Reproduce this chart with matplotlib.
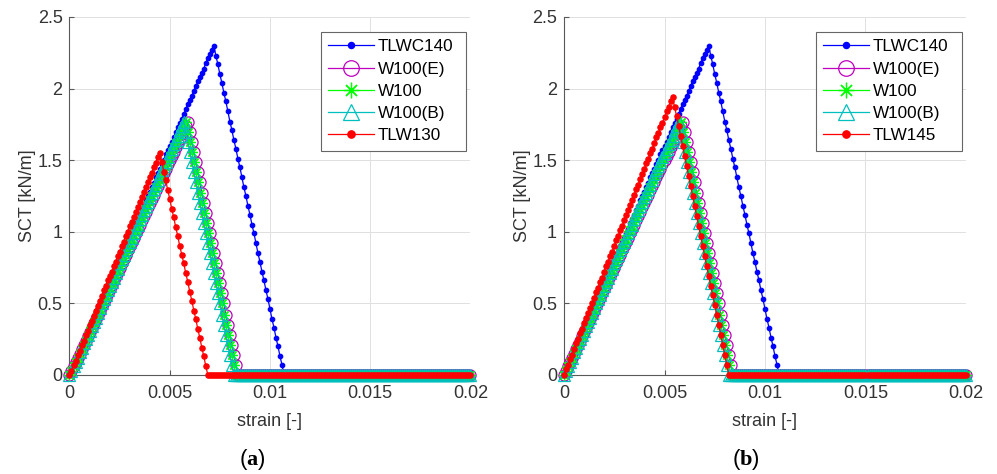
import numpy as np
import matplotlib.pyplot as plt

plt.rcParams.update({'font.family': 'Liberation Sans', 'font.size': 13,
                     'mathtext.fontset': 'custom',
                     'mathtext.rm': 'Liberation Serif',
                     'mathtext.bf': 'Liberation Serif:bold'})

# strain increments of the analysis, 0 to 0.02 in steps of 1e-4
strain = np.arange(201) * 0.0001

# SCT [kN/m] (rise, drop, then zero up to 0.02)
tlwc140_rise = [0.00, 0.03, 0.06, 0.10, 0.13, 0.16, 0.19, 0.22, 0.26, 0.29,
                0.32, 0.35, 0.38, 0.42, 0.45, 0.48, 0.51, 0.54, 0.58, 0.61,
                0.64, 0.67, 0.70, 0.74, 0.77, 0.80, 0.83, 0.86, 0.90, 0.93,
                0.96, 0.99, 1.02, 1.06, 1.09, 1.12, 1.15, 1.18, 1.22, 1.25,
                1.28, 1.31, 1.34, 1.38, 1.41, 1.44, 1.47, 1.50, 1.54, 1.57,
                1.60, 1.63, 1.66, 1.70, 1.73, 1.76, 1.79, 1.82, 1.86, 1.89,
                1.92, 1.95, 1.98, 2.02, 2.05, 2.08, 2.11, 2.14, 2.18, 2.21,
                2.24, 2.27, 2.30]
tlwc140_fall = [2.23, 2.17, 2.10, 2.04, 1.97, 1.91, 1.84, 1.77, 1.71, 1.64,
                1.58, 1.51, 1.45, 1.38, 1.31, 1.25, 1.18, 1.12, 1.05, 0.99,
                0.92, 0.85, 0.79, 0.72, 0.66, 0.59, 0.53, 0.46, 0.39, 0.33,
                0.26, 0.20, 0.13, 0.07, 0.00]

w100e_rise = [0.00, 0.03, 0.06, 0.09, 0.12, 0.15, 0.18, 0.21, 0.24, 0.27,
              0.30, 0.33, 0.36, 0.39, 0.42, 0.45, 0.48, 0.51, 0.54, 0.57,
              0.60, 0.63, 0.66, 0.69, 0.72, 0.75, 0.78, 0.81, 0.84, 0.87,
              0.90, 0.93, 0.96, 0.99, 1.02, 1.05, 1.08, 1.11, 1.14, 1.17,
              1.20, 1.23, 1.26, 1.29, 1.32, 1.35, 1.38, 1.41, 1.44, 1.47,
              1.50, 1.53, 1.56, 1.59, 1.62, 1.65, 1.68, 1.71, 1.74, 1.77]
w100_rise = [0.00, 0.03, 0.06, 0.09, 0.12, 0.15, 0.18, 0.21, 0.24, 0.27,
             0.31, 0.34, 0.37, 0.40, 0.43, 0.46, 0.49, 0.52, 0.55, 0.58,
             0.61, 0.64, 0.67, 0.70, 0.73, 0.76, 0.79, 0.82, 0.85, 0.88,
             0.92, 0.95, 0.98, 1.01, 1.04, 1.07, 1.10, 1.13, 1.16, 1.19,
             1.22, 1.25, 1.28, 1.31, 1.34, 1.37, 1.40, 1.43, 1.46, 1.49,
             1.53, 1.56, 1.59, 1.62, 1.65, 1.68, 1.71, 1.74, 1.77]
w100b_rise = [0.00, 0.03, 0.06, 0.09, 0.12, 0.16, 0.19, 0.22, 0.25, 0.28,
              0.31, 0.34, 0.37, 0.40, 0.43, 0.47, 0.50, 0.53, 0.56, 0.59,
              0.62, 0.65, 0.68, 0.71, 0.74, 0.78, 0.81, 0.84, 0.87, 0.90,
              0.93, 0.96, 0.99, 1.02, 1.05, 1.09, 1.12, 1.15, 1.18, 1.21,
              1.24, 1.27, 1.30, 1.33, 1.36, 1.40, 1.43, 1.46, 1.49, 1.52,
              1.55, 1.58, 1.61, 1.64, 1.67, 1.71, 1.74, 1.77]
# same softening branch for the three W100 sheets
w100_fall = [1.70, 1.63, 1.56, 1.49, 1.42, 1.35, 1.27, 1.20, 1.13, 1.06,
             0.99, 0.92, 0.85, 0.78, 0.71, 0.64, 0.57, 0.50, 0.42, 0.35,
             0.28, 0.21, 0.14, 0.07, 0.00]

tlw130_rise = [0.00, 0.03, 0.07, 0.10, 0.14, 0.17, 0.21, 0.24, 0.28, 0.31,
               0.35, 0.38, 0.41, 0.45, 0.48, 0.52, 0.55, 0.59, 0.62, 0.66,
               0.69, 0.72, 0.76, 0.79, 0.83, 0.86, 0.90, 0.93, 0.97, 1.00,
               1.04, 1.07, 1.10, 1.14, 1.17, 1.21, 1.24, 1.28, 1.31, 1.35,
               1.38, 1.41, 1.45, 1.48, 1.52, 1.55]
tlw130_fall = [1.49, 1.42, 1.36, 1.29, 1.23, 1.16, 1.10, 1.03, 0.97, 0.90,
               0.84, 0.78, 0.71, 0.65, 0.58, 0.52, 0.45, 0.39, 0.32, 0.26,
               0.19, 0.13, 0.06, 0.00]

tlw145_rise = [0.00, 0.04, 0.07, 0.11, 0.14, 0.18, 0.22, 0.25, 0.29, 0.32,
               0.36, 0.40, 0.43, 0.47, 0.50, 0.54, 0.58, 0.61, 0.65, 0.68,
               0.72, 0.76, 0.79, 0.83, 0.86, 0.90, 0.94, 0.97, 1.01, 1.04,
               1.08, 1.12, 1.15, 1.19, 1.22, 1.26, 1.30, 1.33, 1.37, 1.40,
               1.44, 1.48, 1.51, 1.55, 1.58, 1.62, 1.66, 1.69, 1.73, 1.76,
               1.80, 1.84, 1.87, 1.91, 1.94]
tlw145_fall = [1.87, 1.81, 1.74, 1.67, 1.60, 1.53, 1.46, 1.39, 1.32, 1.25,
               1.18, 1.11, 1.04, 0.97, 0.90, 0.83, 0.76, 0.69, 0.62, 0.56,
               0.49, 0.42, 0.35, 0.28, 0.21, 0.14, 0.07, 0.00]

sct_tlwc140 = tlwc140_rise + tlwc140_fall + [0.0] * 93
sct_w100e = w100e_rise + w100_fall + [0.0] * 116
sct_w100 = w100_rise + w100_fall + [0.0] * 117
sct_w100b = w100b_rise + w100_fall + [0.0] * 118
sct_tlw130 = tlw130_rise + tlw130_fall + [0.0] * 131
sct_tlw145 = tlw145_rise + tlw145_fall + [0.0] * 118

xticks = [0, 0.005, 0.01, 0.015, 0.02]
xticklabels = ['0', '0.005', '0.01', '0.015', '0.02']
yticks = [0, 0.5, 1, 1.5, 2, 2.5]
yticklabels = ['0', '0.5', '1', '1.5', '2', '2.5']

common = [('TLWC140', sct_tlwc140, dict(color='b', marker='o', ms=3.2)),
          ('W100(E)', sct_w100e, dict(color='m', marker='o', ms=8, mfc='none')),
          ('W100', sct_w100, dict(color=(0, 1, 0), marker=(8, 2, 0), ms=8)),
          ('W100(B)', sct_w100b, dict(color='c', marker='^', ms=8, mfc='none'))]


def panel(ax, lab, sct):
    curves = common + [(lab, sct, dict(color='r', marker='o', ms=3.8))]
    for name, y, st in curves:
        ax.plot(strain, y, label=name, lw=0.9, mew=0.9, clip_on=False,
                zorder=3, **st)
    ax.set_xlim(0, 0.02)
    ax.set_ylim(0, 2.5)
    ax.set_xticks(xticks)
    ax.set_xticklabels(xticklabels)
    ax.set_yticks(yticks)
    ax.set_yticklabels(yticklabels)
    ax.grid(True, color='0.88', lw=0.7)
    ax.set_axisbelow(True)
    for s in ['top', 'right']:
        ax.spines[s].set_visible(False)
    for s in ['left', 'bottom']:
        ax.spines[s].set_color('0.35')
        ax.spines[s].set_linewidth(0.8)
    ax.tick_params(direction='in', length=3.5, color='0.35', labelcolor='0.2')
    ax.tick_params(axis='x', pad=7)
    ax.tick_params(axis='y', pad=5)
    ax.set_xlabel('strain [-]', color='0.2', labelpad=8)
    ax.set_ylabel('SCT [kN/m]', color='0.2', labelpad=1)
    # legend box stretched to the width it has in the original
    leg = ax.legend(loc='upper right', bbox_to_anchor=(0.626, 0.5, 0.364, 0.459),
                    mode='expand', borderaxespad=0, fancybox=False,
                    framealpha=1, edgecolor='0.4', handlelength=2.7,
                    handletextpad=0.2, labelspacing=0.42, borderpad=0.45,
                    fontsize=12.3, markerscale=1.4)
    leg.get_frame().set_linewidth(0.8)


fig = plt.figure(figsize=(9.97, 4.74), dpi=100)
ax_a = fig.add_axes([0.0697, 0.2089, 0.4022, 0.7553])
ax_b = fig.add_axes([0.5657, 0.2089, 0.4032, 0.7553])
panel(ax_a, 'TLW130', sct_tlw130)
panel(ax_b, 'TLW145', sct_tlw145)

fig.text(0.253, 0.018, r'($\mathbf{a}$)', ha='center', fontsize=16)
fig.text(0.748, 0.018, r'($\mathbf{b}$)', ha='center', fontsize=16)

fig.savefig('out.png', dpi=100)
